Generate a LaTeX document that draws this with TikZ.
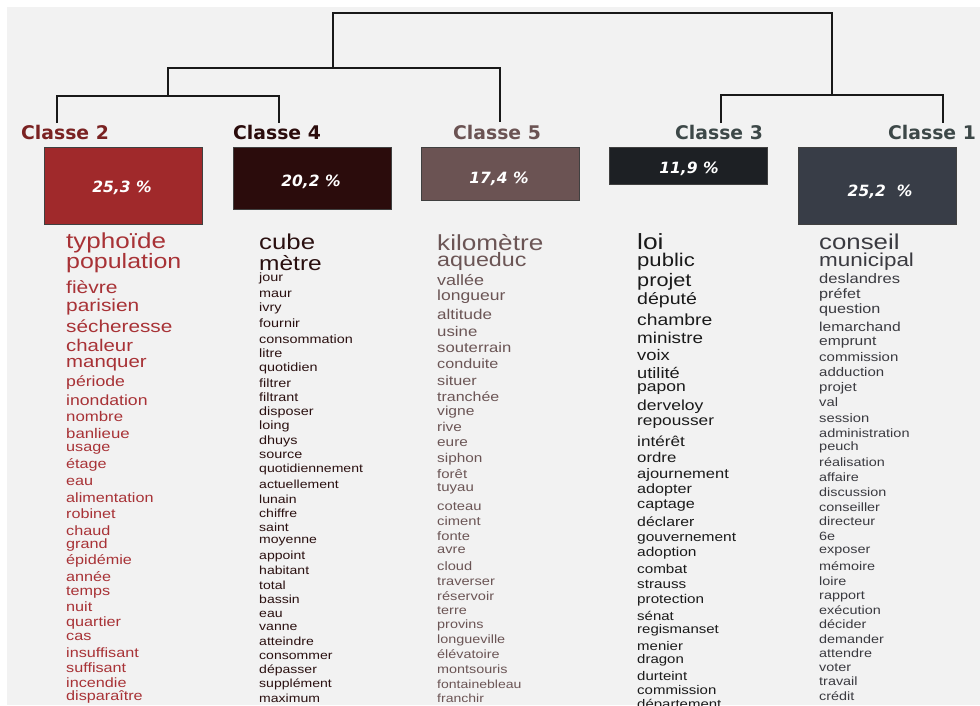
\documentclass[tikz,border=0pt]{standalone}
\usepackage{fontspec}
\usepackage{tikz}
\newfontfamily\wordfont{Liberation Sans}[FakeStretch=1.2]
\newfontfamily\labfont{DejaVu Sans}

\definecolor{bgcol}{HTML}{F2F2F2}
\definecolor{coltwo}{HTML}{A0292B}
\definecolor{colfour}{HTML}{2B0C0C}
\definecolor{colfive}{HTML}{6B5353}
\definecolor{colthree}{HTML}{1D2024}
\definecolor{colone}{HTML}{383D47}
\definecolor{labtwo}{HTML}{7A2222}
\definecolor{labslate}{HTML}{3D4848}
\definecolor{wordtwo}{HTML}{A83236}
\definecolor{wordfour}{HTML}{2A1010}
\definecolor{wordfive}{HTML}{6B5555}
\definecolor{wordthree}{HTML}{1A1A1A}
\definecolor{wordone}{HTML}{3A3A40}

\tikzset{
  link/.style={line width=2pt, black!90},
  classlab/.style={anchor=base, inner sep=0pt, font=\labfont\bfseries\fontsize{18.8}{18.8}\selectfont},
  box/.style={draw=black!75, line width=0.6pt, anchor=north west, minimum width=158pt, inner sep=0pt},
  pct/.style={anchor=base, inner sep=0pt, text=white, font=\labfont\bfseries\itshape\fontsize{15.5}{15.5}\selectfont},
  word/.style={anchor=base west, inner sep=0pt, font=\wordfont\fontsize{#1}{#1}\selectfont}
}

\begin{document}
\begin{tikzpicture}[x=1pt,y=-1pt]

%% Page and grey panel
\clip (0,0) rectangle (980,705);
\fill[white] (0,0) rectangle (980,705);
\fill[bgcol] (7,7) rectangle (980,705);

%% Dendrogram
\coordinate (t2) at (57,123);
\coordinate (t4) at (279,123);
\coordinate (t5) at (500,122);
\coordinate (t3) at (721,123);
\coordinate (t1) at (943,123);
\coordinate (n24) at (168,96);
\coordinate (n245) at (333,68);
\coordinate (n31) at (832,95);
\coordinate (root) at (582,12.5);

\draw[link] (t2) |- (n24) -| (t4);
\draw[link] (n24) |- (n245) -| (t5);
\draw[link] (t3) |- (n31) -| (t1);
\draw[link] (n245) |- (root) -| (n31);

%% Class names
\node[classlab, text=labtwo] (lab2) at (65,139) {Classe 2};
\node[classlab, text=colfour] (lab4) at (277,139) {Classe 4};
\node[classlab, text=colfive] (lab5) at (497,139) {Classe 5};
\node[classlab, text=labslate] (lab3) at (719,139) {Classe 3};
\node[classlab, text=labslate] (lab1) at (932,139) {Classe 1};

%% Boxes (height = share of the corpus)
\node[box, fill=coltwo, minimum height=77pt] (b2) at (44,147) {};
\node[box, fill=colfour, minimum height=62pt] (b4) at (233,147) {};
\node[box, fill=colfive, minimum height=53pt] (b5) at (421,147) {};
\node[box, fill=colthree, minimum height=37pt] (b3) at (609,147) {};
\node[box, fill=colone, minimum height=77pt] (b1) at (798,147) {};

\node[pct] (p2) at (122,192) {25,3 \%};
\node[pct] (p4) at (311,186) {20,2 \%};
\node[pct] (p5) at (499,183) {17,4 \%};
\node[pct] (p3) at (689,173) {11,9 \%};
\node[pct] (p1) at (880,196) {25,2~~\%};

%% Classe 2 words
\begin{scope}[text=wordtwo]
\foreach \w/\s/\y [count=\i] in {typhoïde/21.7/248, population/20.8/268, fièvre/17.5/293,
  parisien/17.4/311, sécheresse/17.3/332, chaleur/17/351.5, manquer/17/367.5,
  période/14.7/386, inondation/14.7/405, nombre/14/421.5, banlieue/14/438,
  usage/13.5/451, étage/13.5/468, eau/13.5/485, alimentation/13.5/502.5,
  robinet/13.5/518, chaud/13.5/535, grand/13.5/548, épidémie/13.5/564,
  année/13.5/581.5, temps/13.5/595, nuit/13.5/611.5, quartier/13.5/626,
  cas/13.5/640.5, insuffisant/13.5/657, suffisant/13.5/672.5, incendie/13.5/687,
  disparaître/13.5/700.5}
  \node[word=\s] (w2-\i) at (66,\y) {\w};
\end{scope}

%% Classe 4 words
\begin{scope}[text=wordfour]
\foreach \w/\s/\y [count=\i] in {cube/21.5/249, mètre/20.4/270, jour/12/281.5,
  maur/12/297.5, ivry/12/311.5, fournir/12/327.5, consommation/12/343,
  litre/12/357, quotidien/12/371.5, filtrer/12/387, filtrant/12/401.5,
  disposer/12/415, loing/12/429, dhuys/12/444, source/12/458,
  quotidiennement/11.7/472, actuellement/11.7/488, lunain/11.7/503,
  chiffre/11.7/517, saint/11.7/531.5, moyenne/11.7/543, appoint/11.7/559,
  habitant/11.7/574, total/11.7/589, bassin/11.7/603, eau/11.7/617,
  vanne/11.7/630.5, atteindre/11.7/645.5, consommer/11.7/659,
  dépasser/11.7/673, supplément/11.7/687, maximum/11.7/702}
  \node[word=\s] (w4-\i) at (259,\y) {\w};
\end{scope}

%% Classe 5 words
\begin{scope}[text=wordfive]
\foreach \w/\s/\y [count=\i] in {kilomètre/21.8/250, aqueduc/19.4/266.5,
  vallée/15/285.5, longueur/14.6/300, altitude/14.2/319, usine/14/336,
  souterrain/13.9/352.5, conduite/13.5/368, situer/13.5/385, tranchée/13.3/401,
  vigne/13/415, rive/12.8/431.5, eure/12.8/446.5, siphon/12.8/462,
  forêt/12.5/478, tuyau/12.5/491.5, coteau/12.3/510, ciment/12.3/525,
  fonte/12.3/540, avre/12.2/553, cloud/12.2/570, traverser/12.2/585,
  réservoir/12.2/600, terre/12/614, provins/12/628, longueville/12/643,
  élévatoire/12/658, montsouris/12/673, fontainebleau/11.7/688, franchir/11.7/702}
  \node[word=\s] (w5-\i) at (437,\y) {\w};
\end{scope}

%% Classe 3 words
\begin{scope}[text=wordthree]
\foreach \w/\s/\y [count=\i] in {loi/22/249, public/18.4/266.5, projet/18.1/286.5,
  député/16.3/304, chambre/16.1/325, ministre/15.7/343, voix/15.3/360,
  utilité/15.2/378, papon/14.6/391.5, derveloy/14.6/410, repousser/14.4/425,
  intérêt/14.3/446.5, ordre/14/462, ajournement/13.75/478, adopter/13.5/493,
  captage/13.5/508, déclarer/13.2/526.5, gouvernement/12.9/541.5,
  adoption/12.9/556.5, combat/12.7/573, strauss/12.7/588, protection/12.7/603,
  sénat/12.5/620, regismanset/12.5/633, menier/12.5/650, dragon/12.5/663,
  durteint/12.5/680, commission/12.5/694, département/12.5/708}
  \node[word=\s] (w3-\i) at (637,\y) {\w};
\end{scope}

%% Classe 1 words
\begin{scope}[text=wordone]
\foreach \w/\s/\y [count=\i] in {conseil/21.5/249, municipal/18.7/266.5,
  deslandres/13.8/283, préfet/13.5/298, question/13.5/313, lemarchand/13/331,
  emprunt/13/345, commission/12.5/361.5, adduction/12.5/376.5, projet/12.5/391,
  val/12.3/406.5, session/12.3/422, administration/12.1/437, peuch/12.1/450,
  réalisation/12/466.5, affaire/12/481.5, discussion/12/496.5,
  conseiller/12/511.5, directeur/12/525.5, 6e/12/540, exposer/12/553,
  mémoire/12/570, loire/12/585, rapport/12/599, exécution/12/614,
  décider/12/628, demander/12/643, attendre/12/657, voter/12/671.5,
  travail/12/685.5, crédit/12/700}
  \node[word=\s] (w1-\i) at (819,\y) {\w};
\end{scope}

\end{tikzpicture}
\end{document}
